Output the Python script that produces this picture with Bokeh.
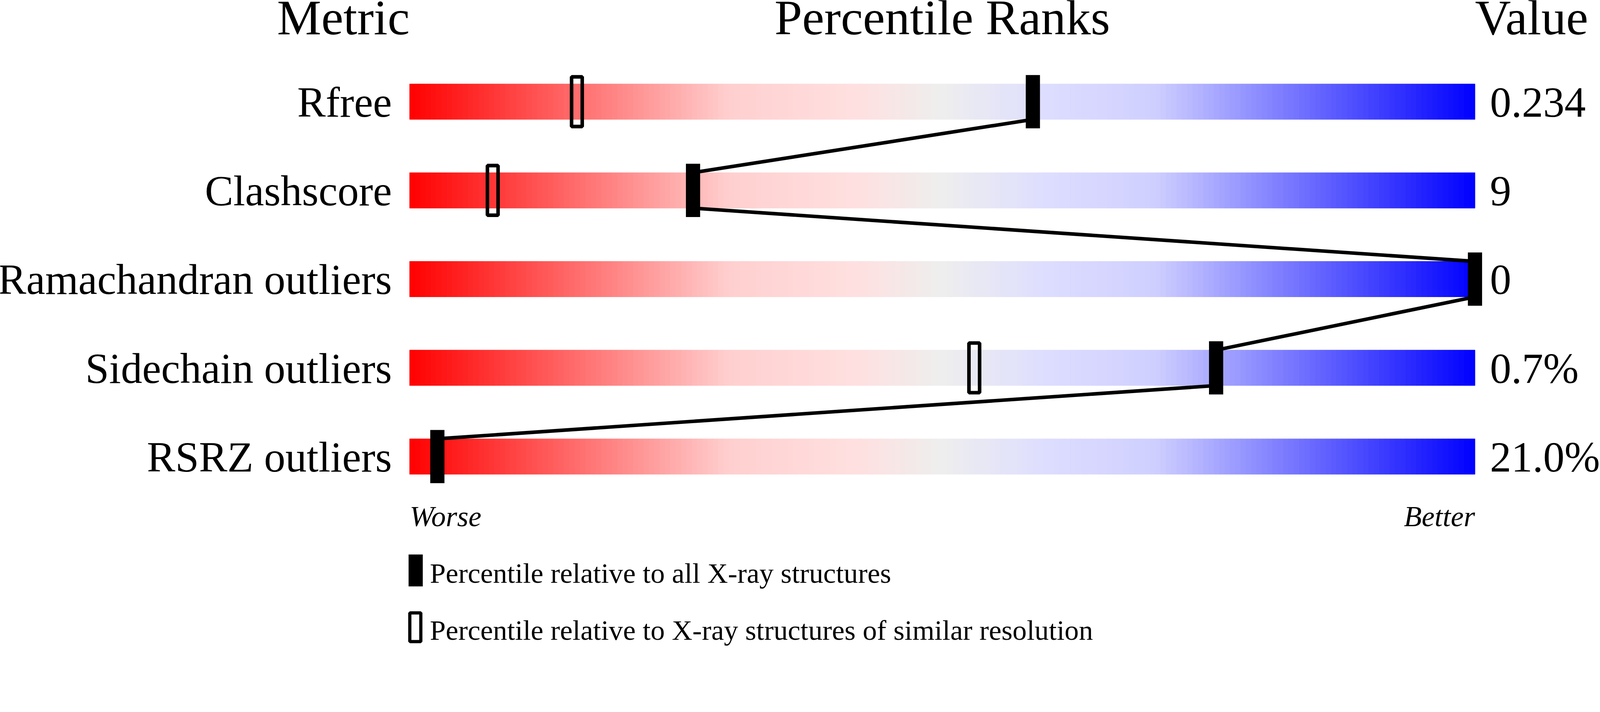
from bokeh.plotting import figure
from bokeh.models import Range1d
from bokeh.core.properties import value
from bokeh.embed import file_html
from bokeh.resources import INLINE

# metrics, shown values and percentile ranks
metrics = ["Rfree", "Clashscore", "Ramachandran outliers",
           "Sidechain outliers", "RSRZ outliers"]
values = ["0.234", "9", "0", "0.7%", "21.0%"]
pct_all = [58.5, 26.6, 100.0, 75.7, 2.6]      # all X-ray structures
pct_res = [15.7, 7.8, None, 53.0, None]       # similar resolution

legend_labels = ["Percentile relative to all X-ray structures",
                 "Percentile relative to X-ray structures of similar resolution"]

# colour stops of the slider background (percentile, colour)
grad_stops = [(0, "#ff0000"), (30, "#ffcfcf"), (42, "#ffe0e0"), (50, "#eeeeee"),
              (60, "#ddddff"), (70, "#cfcfff"), (100, "#0000ff")]

FONT = value("Liberation Serif")
K = 1 / 1.1            # css px per screenshot px
W, H = 4096, 1658
BASE_FIX = 0.4         # svg text sits this many em too low with "alphabetic"


def px(n):
    return "%.1fpx" % (n * K)


def base(y, size):
    # row coordinate of a text baseline, corrected for the svg offset
    return y - BASE_FIX * size / 250


def hex_rgb(c):
    c = c.lstrip("#")
    return tuple(int(c[k:k + 2], 16) for k in (0, 2, 4))


def grad_color(t):
    for (a, ca), (b, cb) in zip(grad_stops[:-1], grad_stops[1:]):
        if a <= t <= b:
            f = (t - a) / (b - a)
            ra, rb = hex_rgb(ca), hex_rgb(cb)
            rgb = [round(x + (y - x) * f) for x, y in zip(ra, rb)]
            return "#%02x%02x%02x" % tuple(rgb)
    return grad_stops[-1][1]


# 1 percentile = 30 screenshot px, 1 row = 250 screenshot px
p = figure(width=W, height=H, output_backend="svg", toolbar_location=None,
           x_range=Range1d(-1153 / 30, (W / K - 1153) / 30),
           y_range=Range1d((H / K - 286) / 250, -286 / 250),
           min_border=0, tools="")
p.axis.visible = False
p.grid.visible = False
p.outline_line_color = None
p.background_fill_color = "white"

rows = list(range(len(metrics)))

# gradient bars, drawn as thin slices
step = 0.5
left, right, bottom, top, colors = [], [], [], [], []
for i in rows:
    t = 0.0
    while t < 100:
        left.append(t)
        right.append(min(t + step, 100))
        bottom.append(i + 0.2)
        top.append(i - 0.2)
        colors.append(grad_color(t + step / 2))
        t += step
p.quad(left=left, right=right, bottom=bottom, top=top,
       fill_color=colors, line_color=colors, line_width=1)

# connecting line between the "all structures" markers
p.segment(x0=pct_all[:-1], y0=[i + 0.2 for i in rows[:-1]],
          x1=pct_all[1:], y1=[i - 0.2 for i in rows[1:]],
          line_color="black", line_width=10 * K)

# similar-resolution markers (hollow)
rx = [v for v in pct_res if v is not None]
ry = [i for i, v in zip(rows, pct_res) if v is not None]
p.rect(x=rx, y=ry, width=1.0, height=0.56, fill_alpha=0,
       line_color="black", line_width=10 * K)

# all-structures markers (filled)
p.rect(x=pct_all, y=rows, width=40 / 30, height=0.6,
       fill_color="black", line_color=None)

# headers
hdr = dict(text_baseline="alphabetic", text_font=FONT,
           text_font_size=value(px(140)))
hy = base(-0.72, 140)
p.text(x=[0], y=[hy], text=["Metric"], text_align="right", **hdr)
p.text(x=[50], y=[hy], text=["Percentile Ranks"], text_align="center", **hdr)
p.text(x=[100], y=[hy], text=["Value"], text_align="left", **hdr)

# row labels and values
lab = dict(text_baseline="alphabetic", text_font=FONT,
           text_font_size=value(px(120)))
ly = [base(i + 0.2, 120) for i in rows]
p.text(x=[-1.667] * len(rows), y=ly, text=metrics, text_align="right", **lab)
p.text(x=[101.4] * len(rows), y=ly, text=values, text_align="left", **lab)

# worse / better
small = dict(text_baseline="alphabetic", text_font=FONT,
             text_font_size=value(px(82)))
wy = base(4.808, 82)
p.text(x=[0], y=[wy], text=["Worse"], text_align="left",
       text_font_style="italic", **small)
p.text(x=[100], y=[wy], text=["Better"], text_align="right",
       text_font_style="italic", **small)

# legend
p.rect(x=[0.567], y=[5.284], width=40 / 30, height=0.36,
       fill_color="black", line_color=None)
p.rect(x=[0.533], y=[5.924], width=31 / 30, height=81 / 250, fill_alpha=0,
       line_color="black", line_width=9 * K)
p.text(x=[1.9, 1.9], y=[base(5.444, 80), base(6.084, 80)], text=legend_labels,
       text_align="left", text_baseline="alphabetic", text_font=FONT,
       text_font_size=value(px(80)))

open("out.html", "w").write(file_html(p, INLINE))
